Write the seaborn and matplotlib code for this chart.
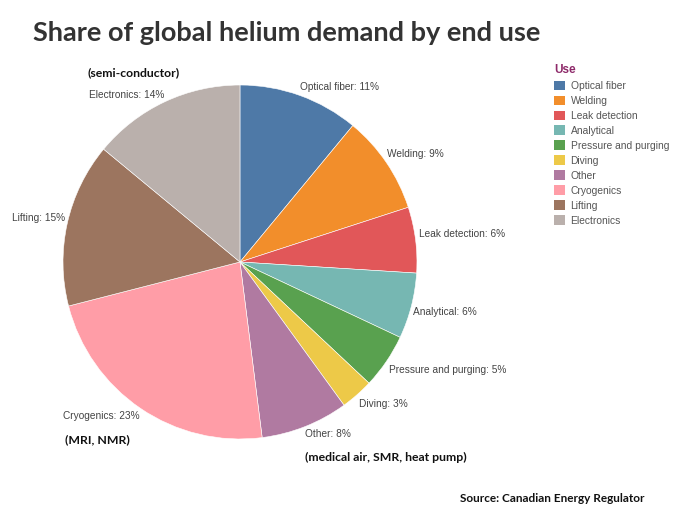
import matplotlib
matplotlib.use("Agg")
import matplotlib.pyplot as plt
import seaborn as sns
from matplotlib.patches import Patch

# data
uses = ["Optical fiber", "Welding", "Leak detection", "Analytical", "Pressure and purging",
        "Diving", "Other", "Cryogenics", "Lifting", "Electronics"]
shares = [11, 9, 6, 6, 5, 3, 8, 23, 15, 14]
colors = ["#4e79a7", "#f28e2b", "#e15759", "#76b7b2", "#59a14f",
          "#edc948", "#b07aa1", "#ff9da7", "#9c755f", "#bab0ac"]

# label placement (pie units, radius 1)
label_pos = [(0.34, 0.99, "left"), (0.83, 0.61, "left"), (1.01, 0.16, "left"),
             (0.98, -0.28, "left"), (0.84, -0.61, "left"), (0.67, -0.80, "left"),
             (0.37, -0.97, "left"), (-0.565, -0.87, "right"), (-0.99, 0.25, "right"),
             (-0.425, 0.945, "right")]

sns.set_theme(style="white")
plt.rcParams['font.family'] = ['Liberation Sans', 'DejaVu Sans']

fig = plt.figure(figsize=(6.84, 5.11), dpi=100)
ax = fig.add_axes([0.0921, 0.1409, 0.5175, 0.6928])
pal = sns.color_palette(colors)
wedges, _ = ax.pie(shares, colors=pal, startangle=90, counterclock=False,
                   wedgeprops=dict(edgecolor="white", linewidth=0.4))
ax.set_xlim(-1, 1)
ax.set_ylim(-1, 1)
ax.set_aspect("equal")
ax.axis("off")

for name, val, (x, y, ha) in zip(uses, shares, label_pos):
    ax.text(x, y, f"{name}: {val}%", ha=ha, va="center", fontsize=7.3, color="#444444")

# notes
note_font = ["Lato", "DejaVu Sans"]
fig.text(88 / 684, 1 - 73 / 511, "(semi-conductor)", fontsize=8.8, fontweight="bold",
         family=note_font, color="#111111", va="center")
fig.text(65 / 684, 1 - 440 / 511, "(MRI, NMR)", fontsize=8.8, fontweight="bold",
         family=note_font, color="#111111", va="center")
fig.text(305 / 684, 1 - 457 / 511, "(medical air, SMR, heat pump)", fontsize=8.8, fontweight="bold",
         family=note_font, color="#111111", va="center")

fig.text(33 / 684, 1 - 33 / 511, "Share of global helium demand by end use", fontsize=19.5,
         fontweight="bold", family=note_font, color="#333333", va="center")
fig.text(460 / 684, 1 - 498 / 511, "Source: Canadian Energy Regulator", fontsize=8.5,
         fontweight="bold", family=note_font, color="#111111", va="center")

handles = [Patch(facecolor=c, edgecolor="none") for c in pal]
leg = fig.legend(handles, uses, loc="upper left", bbox_to_anchor=(550 / 684, 1 - 60 / 511),
                 frameon=False, fontsize=7.4, title="Use", handlelength=1.1, handleheight=1.1,
                 handletextpad=0.5, labelspacing=0.44, borderaxespad=0)
leg.get_title().set_fontweight("bold")
leg.get_title().set_color("#8e2a6a")
leg.get_title().set_fontsize(8.5)
leg._legend_box.align = "left"
for t in leg.get_texts():
    t.set_color("#555555")

fig.savefig("out.png", dpi=100)
